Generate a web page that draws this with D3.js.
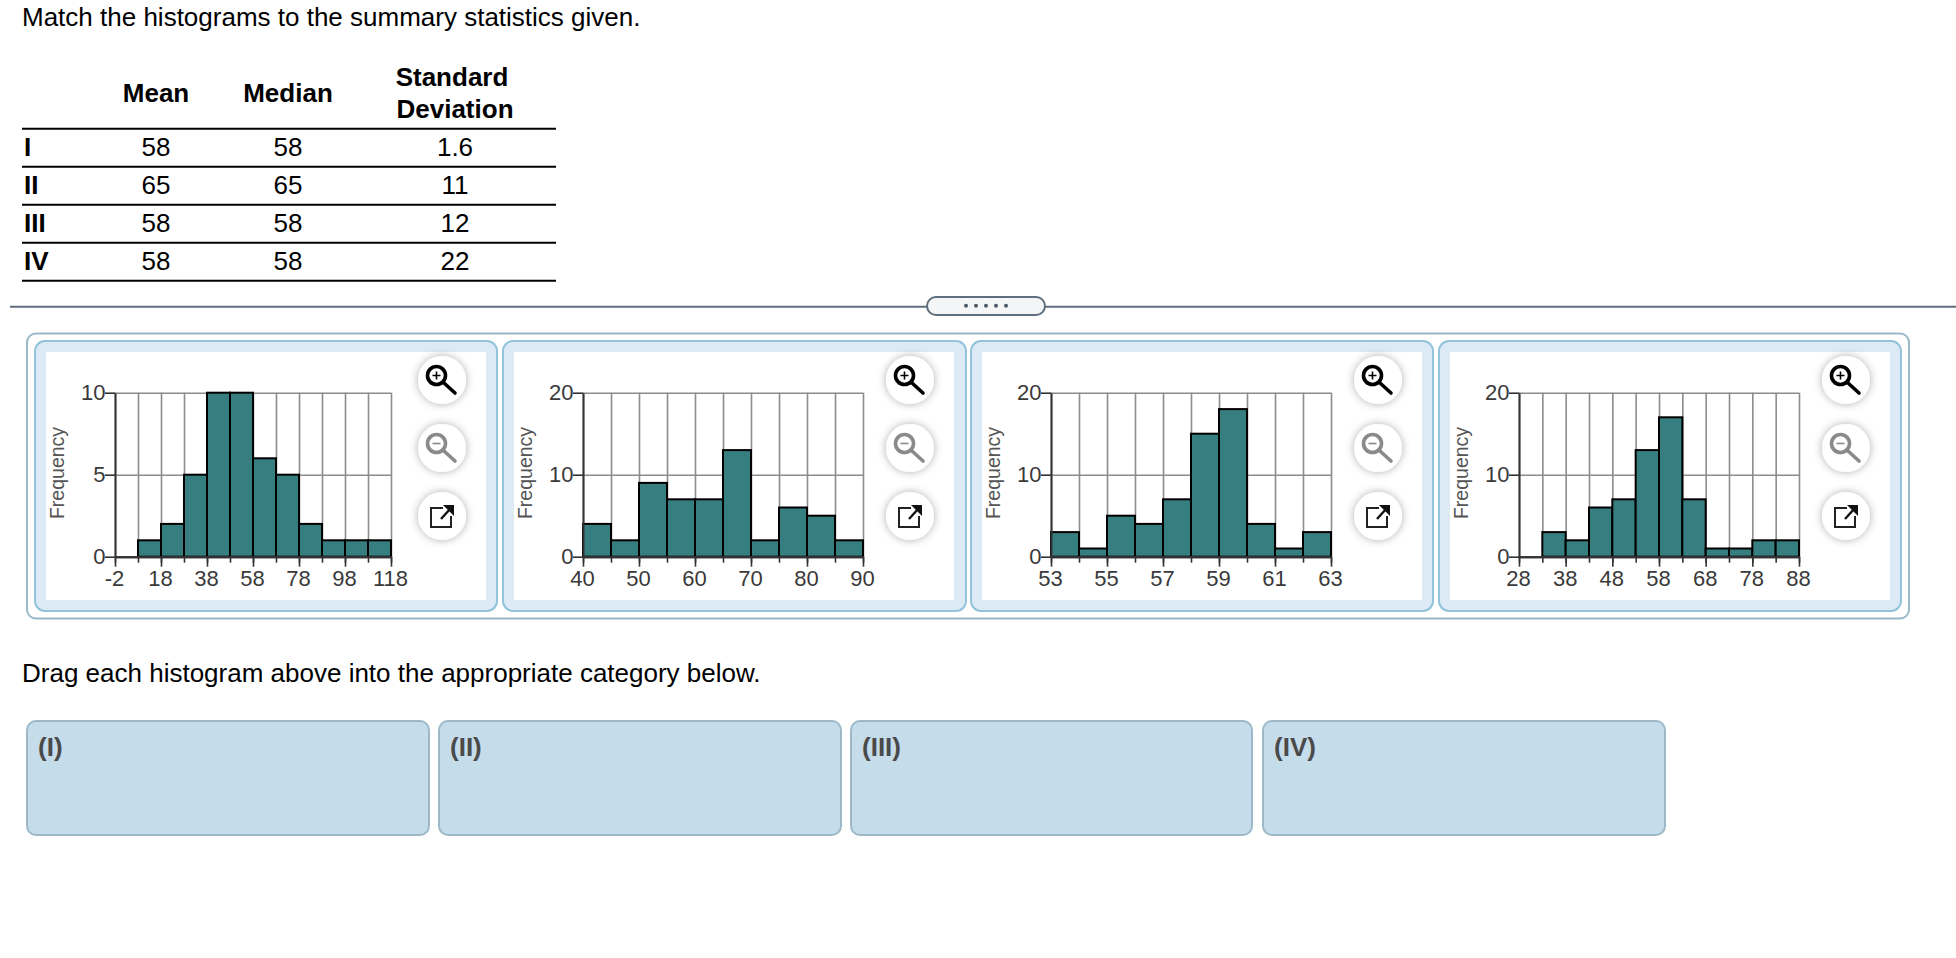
<!DOCTYPE html>
<html>
<head>
<meta charset="utf-8">
<script src="https://cdn.jsdelivr.net/npm/d3@7"></script>
<style>
	html, body { margin: 0; padding: 0; background: #fff; overflow: hidden; }
	svg { display: block; }
	text { font-family: "Liberation Sans", Arial, sans-serif; }
</style>
</head>
<body>
<script>
// table values
const tableHeaders = ["Mean", "Median"];
const rowLabels = ["I", "II", "III", "IV"];
const means = ["58", "65", "58", "58"];
const medians = ["58", "65", "58", "58"];
const stdDevs = ["1.6", "11", "12", "22"];

// histogram 1
const edges1 = [-2, 8, 18, 28, 38, 48, 58, 68, 78, 88, 98, 108, 118];
const counts1 = [0, 1, 2, 5, 10, 10, 6, 5, 2, 1, 1, 1];
const xLabels1 = [-2, 18, 38, 58, 78, 98, 118];
const yTicks1 = [0, 5, 10];

// histogram 2
const edges2 = [40, 45, 50, 55, 60, 65, 70, 75, 80, 85, 90];
const counts2 = [4, 2, 9, 7, 7, 13, 2, 6, 5, 2];
const xLabels2 = [40, 50, 60, 70, 80, 90];
const yTicks2 = [0, 10, 20];

// histogram 3
const edges3 = [53, 54, 55, 56, 57, 58, 59, 60, 61, 62, 63];
const counts3 = [3, 1, 5, 4, 7, 15, 18, 4, 1, 3];
const xLabels3 = [53, 55, 57, 59, 61, 63];
const yTicks3 = [0, 10, 20];

// histogram 4
const edges4 = [28, 33, 38, 43, 48, 53, 58, 63, 68, 73, 78, 83, 88];
const counts4 = [0, 3, 2, 6, 7, 13, 17, 7, 1, 1, 2, 2];
const xLabels4 = [28, 38, 48, 58, 68, 78, 88];
const yTicks4 = [0, 10, 20];

const dropLabels = ["(I)", "(II)", "(III)", "(IV)"];

// page layout
const charts = [
	{edges: edges1, counts: counts1, xLabels: xLabels1, yTicks: yTicks1, card: [35, 497], white: [46, 486], plot: [115, 391], btn: 442},
	{edges: edges2, counts: counts2, xLabels: xLabels2, yTicks: yTicks2, card: [503, 966], white: [514, 954], plot: [583, 863], btn: 910},
	{edges: edges3, counts: counts3, xLabels: xLabels3, yTicks: yTicks3, card: [971, 1433], white: [982, 1422], plot: [1051, 1331], btn: 1378},
	{edges: edges4, counts: counts4, xLabels: xLabels4, yTicks: yTicks4, card: [1439, 1901], white: [1450, 1890], plot: [1519, 1799], btn: 1846}
];
const plotTop = 392.7,
	plotBottom = 556.7;

const svg = d3.select("body").append("svg")
	.attr("width", 1956)
	.attr("height", 958);

// soft shadow for the round buttons
svg.append("defs").append("filter")
	.attr("id", "btn-shadow")
	.attr("x", "-50%").attr("y", "-50%")
	.attr("width", "200%").attr("height", "200%")
	.append("feDropShadow")
	.attr("dx", 0).attr("dy", 0)
	.attr("stdDeviation", 4.5)
	.attr("flood-color", "#000")
	.attr("flood-opacity", 0.32);

// headline
svg.append("text")
	.attr("x", 22).attr("y", 26)
	.attr("font-size", 26)
	.attr("fill", "#000")
	.text("Match the histograms to the summary statistics given.");

// summary table
const colMean = 156,
	colMedian = 288,
	colStd = 455,
	rowLines = [128.7, 166.7, 204.7, 242.7, 280.7],
	rowBase = [155.6, 193.6, 231.6, 269.6];

function tableText(x, y, str, bold, anchor) {
	svg.append("text")
		.attr("x", x).attr("y", y)
		.attr("font-size", 26)
		.attr("font-weight", bold ? "bold" : "normal")
		.attr("text-anchor", anchor || "middle")
		.attr("fill", "#000")
		.text(str);
}
tableText(colMean, 102, tableHeaders[0], true);
tableText(colMedian, 102, tableHeaders[1], true);
tableText(colStd - 3, 86, "Standard", true);
tableText(colStd, 117.5, "Deviation", true);

rowLines.forEach(function(y) {
	svg.append("line")
		.attr("x1", 22).attr("x2", 556)
		.attr("y1", y).attr("y2", y)
		.attr("stroke", "#000")
		.attr("stroke-width", 2);
});
rowLabels.forEach(function(label, i) {
	tableText(24, rowBase[i], label, true, "start");
	tableText(colMean, rowBase[i], means[i]);
	tableText(colMedian, rowBase[i], medians[i]);
	tableText(colStd, rowBase[i], stdDevs[i]);
});

// divider with the drag handle
svg.append("line")
	.attr("x1", 10).attr("x2", 1956)
	.attr("y1", 306.7).attr("y2", 306.7)
	.attr("stroke", "#5f6e7c")
	.attr("stroke-width", 2);
svg.append("rect")
	.attr("x", 927).attr("y", 297)
	.attr("width", 118).attr("height", 18)
	.attr("rx", 9)
	.attr("fill", "#f3f5f7")
	.attr("stroke", "#5f6e7c")
	.attr("stroke-width", 2);
svg.selectAll(".dot")
	.data([966, 976, 986, 996, 1006])
	.enter()
	.append("circle")
	.attr("class", "dot")
	.attr("cx", function(d) { return d; })
	.attr("cy", 305.7)
	.attr("r", 2)
	.attr("fill", "#4f5b66");

// outer frame of the histograms
svg.append("rect")
	.attr("x", 27).attr("y", 333.5)
	.attr("width", 1882).attr("height", 285)
	.attr("rx", 9)
	.attr("fill", "#fff")
	.attr("stroke", "#9ab8c8")
	.attr("stroke-width", 2);

charts.forEach(drawHistogram);

function drawHistogram(c) {
	// card behind the chart
	svg.append("rect")
		.attr("x", c.card[0]).attr("y", 341)
		.attr("width", c.card[1] - c.card[0]).attr("height", 270)
		.attr("rx", 10)
		.attr("fill", "#dceaf5")
		.attr("stroke", "#93c3da")
		.attr("stroke-width", 2);
	svg.append("rect")
		.attr("x", c.white[0]).attr("y", 352)
		.attr("width", c.white[1] - c.white[0]).attr("height", 248)
		.attr("fill", "#fff");

	const xScale = d3.scaleLinear()
		.domain([c.edges[0], c.edges[c.edges.length - 1]])
		.range(c.plot);
	const yScale = d3.scaleLinear()
		.domain([c.yTicks[0], c.yTicks[c.yTicks.length - 1]])
		.range([plotBottom, plotTop]);

	const g = svg.append("g");
	const plotW = c.plot[1] - c.plot[0],
		plotH = plotBottom - plotTop;

	// gridlines
	g.append("g")
		.attr("class", "grid")
		.attr("transform", "translate(0," + plotBottom + ")")
		.call(d3.axisBottom(xScale).tickValues(c.edges).tickSize(-plotH).tickFormat(""));
	g.append("g")
		.attr("class", "grid")
		.attr("transform", "translate(" + c.plot[0] + ",0)")
		.call(d3.axisLeft(yScale).tickValues(c.yTicks).tickSize(-plotW).tickFormat(""));
	g.selectAll(".grid .domain").remove();
	g.selectAll(".grid line")
		.attr("stroke", "#8c8c8c")
		.attr("stroke-width", 1.6);

	// bars, empty bins draw nothing
	const bins = c.counts.map(function(n, i) {
		return {n: n, x0: c.edges[i], x1: c.edges[i + 1]};
	}).filter(function(d) { return d.n > 0; });

	g.selectAll(".bar")
		.data(bins)
		.enter()
		.append("rect")
		.attr("class", "bar")
		.attr("x", function(d) { return xScale(d.x0); })
		.attr("y", function(d) { return yScale(d.n); })
		.attr("width", function(d) { return xScale(d.x1) - xScale(d.x0); })
		.attr("height", function(d) { return plotBottom - yScale(d.n); })
		.attr("fill", "#377e80")
		.attr("stroke", "#000")
		.attr("stroke-width", 2);

	// axes, labels keep a plain hyphen for negatives like the original
	const plainLabel = function(d) { return String(d); };
	const minor = g.append("g")
		.attr("transform", "translate(0," + plotBottom + ")")
		.call(d3.axisBottom(xScale).tickValues(c.edges).tickSize(6).tickSizeOuter(0).tickFormat(""));
	const xAxis = g.append("g")
		.attr("transform", "translate(0," + plotBottom + ")")
		.call(d3.axisBottom(xScale).tickValues(c.xLabels).tickSize(10).tickSizeOuter(0).tickFormat(plainLabel));
	const yAxis = g.append("g")
		.attr("transform", "translate(" + c.plot[0] + ",0)")
		.call(d3.axisLeft(yScale).tickValues(c.yTicks).tickSize(10).tickSizeOuter(0).tickFormat(plainLabel));

	[minor, xAxis, yAxis].forEach(function(a) {
		a.selectAll(".domain").attr("stroke", "#333").attr("stroke-width", 2);
		a.selectAll("line").attr("stroke", "#333").attr("stroke-width", 1.6);
		a.selectAll("text")
			.attr("font-size", 22)
			.attr("font-family", "'Liberation Sans', Arial, sans-serif")
			.attr("fill", "#3a3a3a");
	});
	xAxis.selectAll("text").attr("dy", 0).attr("y", 29.5).attr("x", -1);
	yAxis.selectAll("text").attr("x", -9.5).attr("dy", "0.3em");

	g.append("text")
		.attr("transform", "translate(" + (c.plot[0] - 51) + ",473) rotate(-90)")
		.attr("text-anchor", "middle")
		.attr("font-size", 19.5)
		.attr("fill", "#555")
		.text("Frequency");

	drawButtons(c.btn);
}

function drawButtons(cx) {
	// zoom in
	let b = svg.append("g").attr("transform", "translate(" + cx + ",380)");
	b.append("circle").attr("r", 24).attr("fill", "#fff").attr("filter", "url(#btn-shadow)");
	drawLens(b, "#000", true);

	// zoom out, greyed
	b = svg.append("g").attr("transform", "translate(" + cx + ",448)");
	b.append("circle").attr("r", 24).attr("fill", "#fff").attr("filter", "url(#btn-shadow)");
	drawLens(b, "#8a8a8a", false);

	// open in new window
	b = svg.append("g").attr("transform", "translate(" + cx + ",516)");
	b.append("circle").attr("r", 24).attr("fill", "#fff").attr("filter", "url(#btn-shadow)");
	b.append("path")
		.attr("d", "M1,-8H-11V11H9V0")
		.attr("fill", "none")
		.attr("stroke", "#222")
		.attr("stroke-width", 2);
	b.append("path")
		.attr("d", "M-1,3L9,-8")
		.attr("stroke", "#111")
		.attr("stroke-width", 2.4);
	b.append("path")
		.attr("d", "M1,-11H12V0Z")
		.attr("fill", "#111");
}

function drawLens(b, col, plus) {
	b.append("circle")
		.attr("cx", -5.5).attr("cy", -4.5).attr("r", 9)
		.attr("fill", "none")
		.attr("stroke", col)
		.attr("stroke-width", 3.6);
	b.append("path")
		.attr("d", "M2,3L13,13")
		.attr("stroke", col)
		.attr("stroke-width", 3.6)
		.attr("stroke-linecap", "round");
	b.append("path")
		.attr("d", plus ? "M-9.5,-4.5H-1.5M-5.5,-8.5V-0.5" : "M-9.5,-4.5H-1.5")
		.attr("stroke", col)
		.attr("stroke-width", 1.6);
}

// lower prompt and drop targets
svg.append("text")
	.attr("x", 22).attr("y", 682)
	.attr("font-size", 26)
	.attr("fill", "#000")
	.text("Drag each histogram above into the appropriate category below.");

const dropBoxes = [[27, 429], [439, 841], [851, 1252], [1263, 1665]];
dropLabels.forEach(function(label, i) {
	svg.append("rect")
		.attr("x", dropBoxes[i][0]).attr("y", 721)
		.attr("width", dropBoxes[i][1] - dropBoxes[i][0]).attr("height", 114)
		.attr("rx", 9)
		.attr("fill", "#c5dcea")
		.attr("stroke", "#9db9c9")
		.attr("stroke-width", 2);
	svg.append("text")
		.attr("x", dropBoxes[i][0] + 11).attr("y", 756)
		.attr("font-size", 26)
		.attr("font-weight", "bold")
		.attr("fill", "#4a4a4a")
		.text(label);
});
</script>
</body>
</html>
